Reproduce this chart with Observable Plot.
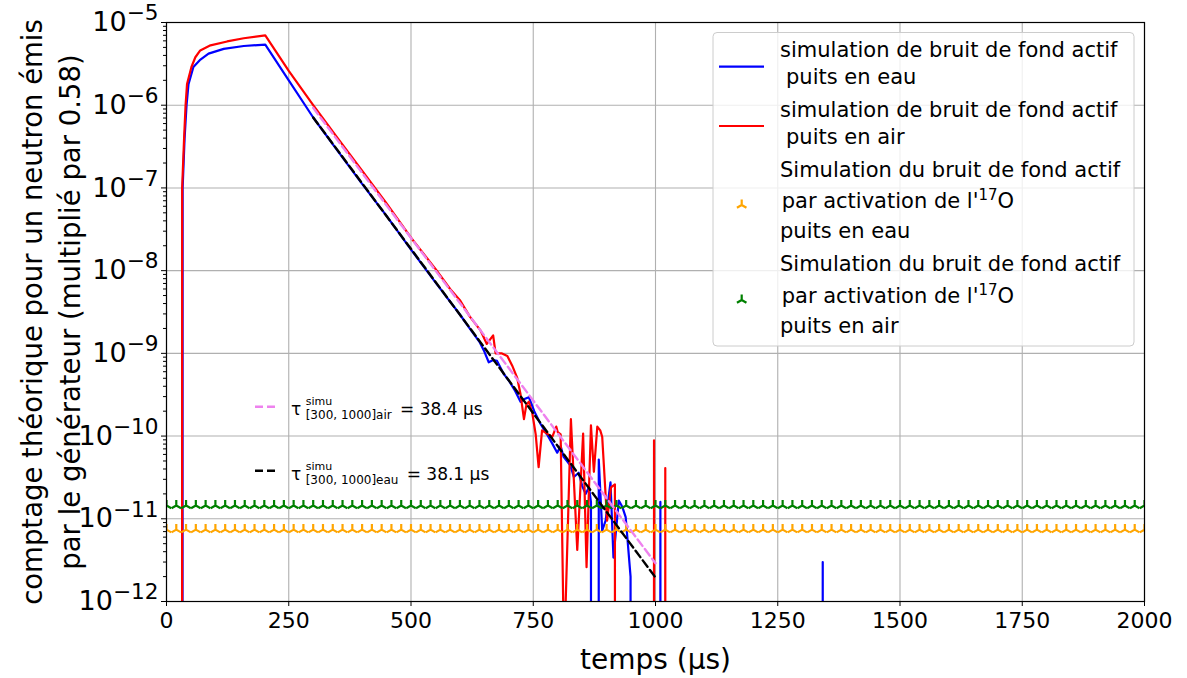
<!DOCTYPE html>
<html><head><meta charset="utf-8">
<script src="https://cdn.jsdelivr.net/npm/d3@7"></script>
<script src="https://cdn.jsdelivr.net/npm/@observablehq/plot@0.6"></script>
<style>
body{margin:0;background:#fff;}
#chart{position:relative;width:1187px;height:678px;}
svg{font-family:"DejaVu Sans",sans-serif;}
</style></head><body><div id="chart"></div>
<script>
// ---------- data ----------
const xTicks = [0, 250, 500, 750, 1000, 1250, 1500, 1750, 2000];
const yDecades = [1e-12, 1e-11, 1e-10, 1e-9, 1e-8, 1e-7, 1e-6, 1e-5];

// simulation de bruit de fond actif, puits en eau (blue)
const blueT = [30,33,37,41,45,55,68,86,117,158,202,250,300,350,400,450,500,550,600,620,640,650,659,668,676,690,700,712,724,732,741,752,765,778,789,799,806,812,819,826,833,843,850,857,864,868,873,879,884,891,898,908,914,925,932,939,949,954,1005,1010,1015,1340,1342,1344,2000];
const blueV = [0,1.0e-7,4.0e-7,1.0e-6,1.8e-6,2.9e-6,3.5e-6,4.2e-6,4.8e-6,5.2e-6,5.4e-6,2.0e-6,7.1e-7,2.8e-7,1.12e-7,4.6e-8,1.8e-8,7.2e-9,2.95e-9,2.0e-9,1.38e-9,1.05e-9,7.8e-10,8.3e-10,8.1e-10,5.6e-10,4.7e-10,3.6e-10,2.6e-10,2.8e-10,2.95e-10,2.0e-10,1.4e-10,1.05e-10,8.1e-11,6.3e-11,7.6e-11,5.6e-11,5.0e-11,4.4e-11,3.2e-11,3.6e-11,2.5e-11,2.0e-11,2.4e-11,1.6e-11,0,0,5.2e-11,7.2e-12,9.5e-12,2.75e-11,3.4e-12,1.66e-11,1.4e-11,1.05e-11,2.0e-12,0,0,1.6e-11,0,0,3.0e-12,0,0];

// simulation de bruit de fond actif, puits en air (red)
const redT = [30,32,36,39,42,51,59,69,90,124,158,202,250,300,350,400,450,500,550,580,600,620,642,655,668,673,685,697,707,717,724,731,736,741,748,755,761,768,778,789,797,800,806,813,827,840,852,859,868,874,881,887,891,901,909,917,920,992,997,1001,1016,1020,1024,2000];
const redV = [0,1.0e-7,4.0e-7,1.0e-6,1.8e-6,2.9e-6,3.8e-6,4.6e-6,5.3e-6,5.9e-6,6.45e-6,7.0e-6,2.6e-6,1.0e-6,4.0e-7,1.62e-7,6.5e-8,2.5e-8,1.05e-8,6.0e-9,4.4e-9,2.8e-9,1.9e-9,1.3e-9,1.65e-9,1.0e-9,1.0e-9,9.3e-10,7.1e-10,5.1e-10,3.2e-10,1.6e-10,2.4e-10,2.6e-10,1.9e-10,1.05e-10,4.2e-11,1.17e-10,1.07e-10,9.8e-11,1.3e-10,1.12e-10,1.05e-10,2.0e-13,1.6e-10,4.2e-12,1.07e-10,2.6e-12,1.35e-10,3.7e-11,1.3e-10,1.17e-10,9.8e-11,9.5e-12,2.4e-11,2.6e-11,0,0,8.9e-11,0,0,4.1e-11,0,0];

// exponential fits (endpoints)
const fitT = [300, 1000];
const fitAirV = [9.3e-7, 2.9e-12];
const fitEauV = [7.1e-7, 1.95e-12];

// 17O activation background levels
const orangeLevel = 7.4e-12; // puits en eau
const greenLevel = 1.45e-11; // puits en air
const markerT = d3.range(0, 2001, 20);

// texts
const xLabel = "temps (µs)";
const yLabel = "comptage théorique pour un neutron émis\npar le générateur (multiplié par 0.58)";
const legendLabels = [
  ["simulation de bruit de fond actif", " puits en eau"],
  ["simulation de bruit de fond actif", " puits en air"],
  ["Simulation du bruit de fond actif", "par activation de l'|17|O", "puits en eau"],
  ["Simulation du bruit de fond actif", "par activation de l'|17|O", "puits en air"]
];
const fitLabels = [
  {sub: "[300, 1000]air", val: "= 38.4 µs"},
  {sub: "[300, 1000]eau", val: "= 38.1 µs"}
];

// ---------- build ----------
const FLOOR = 1e-100;
const toRows = (T, V) => T.map((t, i) => ({t, v: V[i] > 0 ? V[i] : FLOOR}));
const blue = toRows(blueT, blueV);
const red = toRows(redT, redV);
const fitAir = toRows(fitT, fitAirV);
const fitEau = toRows(fitT, fitEauV);
const orange = markerT.map(t => ({t, v: orangeLevel}));
const green = markerT.map(t => ({t, v: greenLevel}));
const minorTicks = [];
for (let k = -12; k < -5; k++) for (let m = 2; m <= 9; m++) minorTicks.push(m * Math.pow(10, k));

const triUp = {draw(ctx, size) {
  const r = Math.sqrt(size / Math.PI);
  ctx.moveTo(0, 0); ctx.lineTo(0, -r);
  ctx.moveTo(0, 0); ctx.lineTo(-r * 0.866, r * 0.5);
  ctx.moveTo(0, 0); ctx.lineTo(r * 0.866, r * 0.5);
}};

const FONT = '"DejaVu Sans", sans-serif';
const plot = Plot.plot({
  width: 1187, height: 678,
  marginLeft: 166, marginRight: 43, marginTop: 22, marginBottom: 77,
  style: {fontFamily: FONT, background: "white", color: "black"},
  x: {domain: [0, 2000]},
  y: {type: "log", domain: [1e-12, 1e-5]},
  marks: [
    Plot.gridX(xTicks, {stroke: "#b0b0b0", strokeOpacity: 1, strokeWidth: 1.1}),
    Plot.gridY(yDecades, {stroke: "#b0b0b0", strokeOpacity: 1, strokeWidth: 1.1}),
    Plot.line(blue, {x: "t", y: "v", stroke: "#0000ff", strokeWidth: 2.2, clip: true}),
    Plot.line(red, {x: "t", y: "v", stroke: "#ff0000", strokeWidth: 2.2, clip: true}),
    Plot.dot(orange, {x: "t", y: "v", symbol: triUp, r: 5.5, stroke: "orange", fill: "none", strokeWidth: 2.2, clip: true}),
    Plot.dot(green, {x: "t", y: "v", symbol: triUp, r: 5.5, stroke: "green", fill: "none", strokeWidth: 2.2, clip: true}),
    Plot.line(fitAir, {x: "t", y: "v", stroke: "violet", strokeWidth: 2.4, strokeDasharray: "8,4", clip: true}),
    Plot.line(fitEau, {x: "t", y: "v", stroke: "black", strokeWidth: 2.4, strokeDasharray: "8,4", clip: true}),
    Plot.axisX({ticks: xTicks, tickSize: 5, tickPadding: 6, fontSize: 22, tickFormat: d => String(d), label: null}),
    Plot.axisY({ticks: yDecades, tickSize: 5, tickPadding: 3, fontSize: 27, label: null,
      tickFormat: d => "10^" + String(Math.round(Math.log10(d))).replace("-", "−")}),
    Plot.axisY({ticks: minorTicks, tickSize: 3, tickFormat: () => "", label: null}),
    Plot.frame({stroke: "black", strokeWidth: 1.2}),
    Plot.text([xLabel], {text: d => d, frameAnchor: "bottom", dy: 59, fontSize: 28, textAnchor: "middle", lineAnchor: "middle"}),
    Plot.text([yLabel], {text: d => d, frameAnchor: "left", dx: -118, rotate: -90, fontSize: 27.5, lineHeight: 1.38, textAnchor: "middle", lineAnchor: "middle"})
  ]
});
document.getElementById("chart").appendChild(plot);

const svg = d3.select(plot);
// superscript exponents on y tick labels
svg.selectAll('g[aria-label="y-axis tick label"] text').each(function() {
  const s = this.textContent;
  if (!s.includes("^")) return;
  const [base, exp] = s.split("^");
  this.textContent = "";
  const t = d3.select(this);
  t.append("tspan").text(base);
  t.append("tspan").attr("dy", "-0.5em").attr("font-size", "0.8em").text(exp);
});

// ---------- legend (upper right) ----------
const lg = svg.append("g").attr("font-family", FONT).attr("font-size", 21).attr("fill", "black").attr("text-anchor", "start");
lg.append("rect").attr("x", 713).attr("y", 32.5).attr("width", 421).attr("height", 313.5).attr("rx", 4)
  .attr("fill", "white").attr("fill-opacity", 0.8).attr("stroke", "#cccccc").attr("stroke-width", 1);
const handleStyles = [
  {type: "line", color: "#0000ff", y: 66.7},
  {type: "line", color: "#ff0000", y: 126},
  {type: "marker", color: "orange", y: 205},
  {type: "marker", color: "green", y: 300}
];
const baselines = [[57.3, 83.5], [117.3, 143.8], [176.7, 208.3, 238.3], [270.7, 302.7, 333.3]];
handleStyles.forEach((h, i) => {
  if (h.type === "line") {
    lg.append("line").attr("x1", 719).attr("x2", 764).attr("y1", h.y).attr("y2", h.y)
      .attr("stroke", h.color).attr("stroke-width", 2.2);
  } else {
    const r = 5.5, x = 741.7, y = h.y;
    lg.append("path").attr("d", `M${x},${y}L${x},${y - r}M${x},${y}L${x - r * 0.866},${y + r * 0.5}M${x},${y}L${x + r * 0.866},${y + r * 0.5}`)
      .attr("stroke", h.color).attr("stroke-width", 2.2).attr("fill", "none");
  }
  legendLabels[i].forEach((line, j) => {
    const lead = line.startsWith(" ");
    const txt = lg.append("text").attr("x", lead ? 786 : (line.startsWith("par") ? 781.7 : 780)).attr("y", baselines[i][j]);
    if (line.includes("|")) {
      const [a, sup, b] = line.split("|");
      txt.append("tspan").text(a);
      txt.append("tspan").attr("dy", -8).attr("font-size", 15).text(sup);
      txt.append("tspan").attr("dy", 8).text(b);
    } else {
      txt.text(line.trim());
    }
  });
});

// ---------- fit legend (left middle) ----------
const fl = svg.append("g").attr("font-family", FONT).attr("fill", "black").attr("text-anchor", "start");
const fitStyles = [
  {color: "violet", yLine: 406.7, yBase: 415, eqX: 400},
  {color: "black", yLine: 470.7, yBase: 480, eqX: 406.7}
];
fitStyles.forEach((f, i) => {
  fl.append("line").attr("x1", 255).attr("x2", 278).attr("y1", f.yLine).attr("y2", f.yLine)
    .attr("stroke", f.color).attr("stroke-width", 2.4).attr("stroke-dasharray", "8,4");
  fl.append("text").attr("x", 291).attr("y", f.yBase).attr("font-size", 17).text("τ");
  fl.append("text").attr("x", 305.7).attr("y", f.yBase - 10).attr("font-size", 11).text("simu");
  fl.append("text").attr("x", 305.7).attr("y", f.yBase + 4).attr("font-size", 12).text(fitLabels[i].sub);
  fl.append("text").attr("x", f.eqX).attr("y", f.yBase).attr("font-size", 17).text(fitLabels[i].val);
});
</script>
</body></html>
